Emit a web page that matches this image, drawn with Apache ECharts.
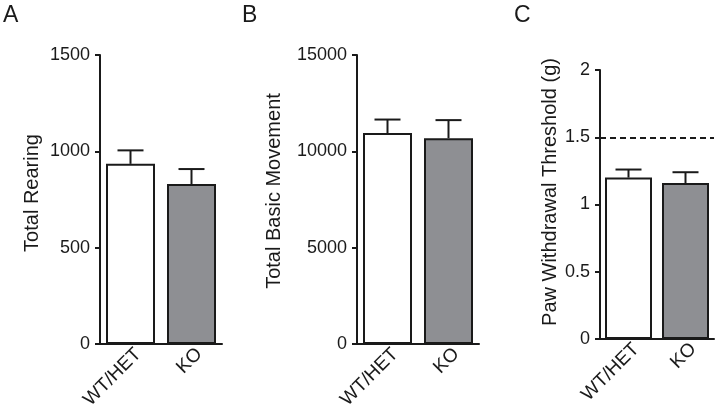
<!DOCTYPE html>
<html>
<head>
<meta charset="utf-8">
<script src="https://cdn.jsdelivr.net/npm/echarts@6/dist/echarts.min.js"></script>
<style>html,body{margin:0;padding:0;background:#fff;}#c{width:721px;height:413px;}</style>
</head>
<body>
<div id="c"></div>
<script>
const categories = ['WT/HET', 'KO'];
const rearingMean = [935, 830];
const rearingUpper = [1005, 908];
const movementMean = [10950, 10680];
const movementUpper = [11650, 11620];
const pawMean = [1.20, 1.16];
const pawUpper = [1.26, 1.24];
const pawThreshold = 1.5;
const yTicksA = {max: 1500, interval: 500};
const yTicksB = {max: 15000, interval: 5000};
const yTicksC = {max: 2, interval: 0.5};
const panelTitles = ['Total Rearing', 'Total Basic Movement', 'Paw Withdrawal Threshold (g)'];
const panelLetters = ['A', 'B', 'C'];

const FONT = "'Liberation Sans', Arial, sans-serif";
const INK = '#1a1a1a';
const barColors = ['#ffffff', '#8e8f93'];

const grids = [
  {left: 100, top: 55, width: 122, height: 289},
  {left: 357, top: 55, width: 122, height: 289},
  {left: 600, top: 70, width: 114, height: 269}
];
const ticks = [yTicksA, yTicksB, yTicksC];
const means = [rearingMean, movementMean, pawMean];
const uppers = [rearingUpper, movementUpper, pawUpper];
const barWidths = [49, 49, 47];

const xAxes = grids.map((g, i) => ({
  type: 'category', gridIndex: i, data: categories,
  axisLine: {show: true, lineStyle: {color: INK, width: 2}},
  axisTick: {show: false},
  axisLabel: {rotate: 45, fontSize: 19, color: INK, fontFamily: FONT, margin: 15, interval: 0,
    padding: [0, -11, 0, 0]},
  splitLine: {show: false}
}));
const yAxes = grids.map((g, i) => ({
  type: 'value', gridIndex: i, min: 0, max: ticks[i].max, interval: ticks[i].interval,
  axisLine: {show: true, lineStyle: {color: INK, width: 2}},
  axisTick: {show: true, length: 5, lineStyle: {color: INK, width: 2}},
  axisLabel: {fontSize: 18, color: INK, fontFamily: FONT, margin: 10,
    formatter: v => String(v)},
  splitLine: {show: false}
}));

const series = [];
grids.forEach((g, i) => {
  const bar = {
    type: 'bar', xAxisIndex: i, yAxisIndex: i, barWidth: barWidths[i],
    data: means[i].map((v, k) => ({value: v, itemStyle: {color: barColors[k]}})),
    itemStyle: {borderColor: INK, borderWidth: 2},
    silent: true, z: 2
  };
  if (i === 2) {
    bar.markLine = {
      silent: true, symbol: ['none', 'none'], label: {show: false},
      lineStyle: {color: INK, width: 2, type: [6, 4]},
      data: [{yAxis: pawThreshold}]
    };
  }
  series.push(bar);
  series.push({
    type: 'custom', xAxisIndex: i, yAxisIndex: i, z: 1,
    data: means[i].map((v, k) => [k, v, uppers[i][k]]),
    renderItem: (params, api) => {
      const base = api.coord([api.value(0), api.value(1)]);
      const top = api.coord([api.value(0), api.value(2)]);
      const hw = 13;
      const st = {stroke: INK, lineWidth: 2};
      return {type: 'group', children: [
        {type: 'line', shape: {x1: base[0], y1: base[1], x2: top[0], y2: top[1]}, style: st},
        {type: 'line', shape: {x1: top[0] - hw, y1: top[1], x2: top[0] + hw, y2: top[1]}, style: st}
      ]};
    }
  });
});

const titlePos = [[32, 193], [274, 191], [550, 192]];
const letterPos = [[3, 4], [242, 4], [514, 4]];
const graphics = [];
panelTitles.forEach((t, i) => {
  graphics.push({type: 'text', x: titlePos[i][0], y: titlePos[i][1], rotation: Math.PI / 2,
    style: {text: t, font: '20px ' + FONT, fill: INK, textAlign: 'center', textVerticalAlign: 'middle'}});
});
panelLetters.forEach((t, i) => {
  graphics.push({type: 'text', x: letterPos[i][0], y: letterPos[i][1],
    style: {text: t, font: '23px ' + FONT, fill: INK, textAlign: 'left', textVerticalAlign: 'top'}});
});

const chart = echarts.init(document.getElementById('c'), null, {renderer: 'canvas'});
chart.setOption({
  animation: false,
  backgroundColor: '#ffffff',
  grid: grids,
  xAxis: xAxes,
  yAxis: yAxes,
  series: series,
  graphic: graphics
});
</script>
</body>
</html>
